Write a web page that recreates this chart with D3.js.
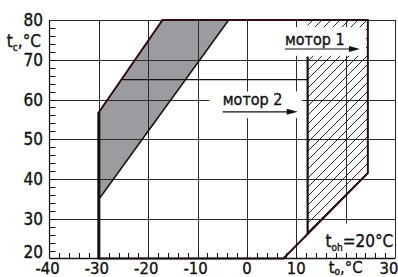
<!DOCTYPE html>
<html>
<head>
<meta charset="utf-8">
<script src="https://cdn.jsdelivr.net/npm/d3@7"></script>
<style>
  body { margin: 0; background: #fff; }
  #chart { width: 398px; height: 277px; }
  text { font-family: "Liberation Sans Narrow", "DejaVu Sans Condensed", "Roboto", sans-serif; fill: #111; stroke: #111; stroke-width: 0.35px; }
</style>
</head>
<body>
<div id="chart"></div>
<script>
// ticks
const xTicks = [-40, -30, -20, -10, 0, 10, 20, 30];
const xTickLabels = ["-40", "-30", "-20", "-10", "0", "10", "", "30"];
const yTicks = [20, 30, 40, 50, 60, 70, 80];
const yTickLabels = ["20", "30", "40", "50", "60", "70", "80"];

// working areas, [t_o, t_c]
const outerRegion = [[-30, 20], [-30, 56.8], [-17.1, 80], [24.5, 80], [24.5, 41.5], [7.4, 20]];
const grayBand = [[-30, 34.9], [-30, 56.8], [-17.1, 80], [-3.7, 80]];
const motor1Zone = [[12.3, 26.2], [12.3, 80], [24.5, 80], [24.5, 41.5]];
const motor1Edge = [[12.3, 26.2], [12.3, 70.8]];
const motor2Limit = [[-25.2, 65], [12.3, 65]];

let width = 398, height = 277;

let x = d3.scaleLinear().domain([-40, 30]).range([49.5, 395]);
let y = d3.scaleLinear().domain([20, 80]).range([258.5, 20]);

let svg = d3.select("#chart").append("svg")
    .attr("width", width)
    .attr("height", height);

// hatch pattern
let defs = svg.append("defs");
defs.append("pattern")
    .attr("id", "hatch")
    .attr("patternUnits", "userSpaceOnUse")
    .attr("width", 9)
    .attr("height", 9)
    .append("path")
    .attr("d", "M-1,10 L10,-1 M-5.5,5.5 L5.5,-5.5 M3.5,14.5 L14.5,3.5")
    .attr("stroke", "#111")
    .attr("stroke-width", 0.9);

let line = d3.line().x(d => x(d[0])).y(d => y(d[1]));

// gray band
svg.append("path")
    .datum(grayBand)
    .attr("d", line.curve(d3.curveLinearClosed))
    .attr("fill", "#9c9ca0");

// hatched motor 1 zone
svg.append("path")
    .datum(motor1Zone)
    .attr("d", line.curve(d3.curveLinearClosed))
    .attr("fill", "url(#hatch)");

line.curve(d3.curveLinear);

// grid
svg.append("g").selectAll("line.v")
    .data(xTicks.slice(1))
    .enter().append("line")
    .attr("x1", d => Math.round(x(d)) + 0.5)
    .attr("x2", d => Math.round(x(d)) + 0.5)
    .attr("y1", y(80))
    .attr("y2", y(20))
    .attr("stroke", "#2a2a2a")
    .attr("stroke-width", 1);

svg.append("g").selectAll("line.h")
    .data(yTicks.slice(1))
    .enter().append("line")
    .attr("y1", d => Math.round(y(d)) + 0.5)
    .attr("y2", d => Math.round(y(d)) + 0.5)
    .attr("x1", x(-40))
    .attr("x2", x(30))
    .attr("stroke", "#2a2a2a")
    .attr("stroke-width", 1);

// motor 2 upper limit
svg.append("path")
    .datum(motor2Limit)
    .attr("d", line)
    .attr("stroke", "#111")
    .attr("stroke-width", 1.2)
    .attr("fill", "none");

// white boxes behind labels
let boxes = [
    {x0: 7.2, x1: 24.1, y0: 78.2, y1: 71.0},
    {x0: -7.6, x1: 11.1, y0: 62.0, y1: 55.3},
    {x0: 15.2, x1: 29.3, y0: 28.8, y1: 21.4}
];
svg.append("g").selectAll("rect")
    .data(boxes)
    .enter().append("rect")
    .attr("x", d => x(d.x0))
    .attr("y", d => y(d.y0))
    .attr("width", d => x(d.x1) - x(d.x0))
    .attr("height", d => y(d.y1) - y(d.y0))
    .attr("fill", "#fff");

// gray band lower edge
svg.append("path")
    .datum([grayBand[0], grayBand[3]])
    .attr("d", line)
    .attr("stroke", "#111")
    .attr("stroke-width", 1.5)
    .attr("fill", "none");

// outer region outline
svg.append("path")
    .datum(outerRegion)
    .attr("d", line.curve(d3.curveLinearClosed))
    .attr("stroke", "#2c0d0d")
    .attr("stroke-width", 2)
    .attr("stroke-linejoin", "miter")
    .attr("fill", "none");
line.curve(d3.curveLinear);

// thick left edge at x=-30
svg.append("path")
    .datum([[-30, 20], [-30, 56.8]])
    .attr("d", line)
    .attr("stroke", "#111")
    .attr("stroke-width", 3)
    .attr("fill", "none");

// motor 1 left edge
svg.append("path")
    .datum(motor1Edge)
    .attr("d", line)
    .attr("stroke", "#111")
    .attr("stroke-width", 2.2)
    .attr("fill", "none");

// axes
svg.append("line")
    .attr("x1", x(-40)).attr("x2", x(-40))
    .attr("y1", y(80)).attr("y2", y(20))
    .attr("stroke", "#111").attr("stroke-width", 1.2);
svg.append("line")
    .attr("x1", x(-40)).attr("x2", x(30))
    .attr("y1", y(20)).attr("y2", y(20))
    .attr("stroke", "#111").attr("stroke-width", 1.5);

// minor ticks
svg.append("g").selectAll("line")
    .data(d3.range(22, 80, 2))
    .enter().append("line")
    .attr("x1", x(-40))
    .attr("x2", x(-40) + 6)
    .attr("y1", d => Math.round(y(d)) + 0.5)
    .attr("y2", d => Math.round(y(d)) + 0.5)
    .attr("stroke", "#111");

svg.append("g").selectAll("line")
    .data(d3.range(-38, 30, 2))
    .enter().append("line")
    .attr("x1", d => Math.round(x(d)) + 0.5)
    .attr("x2", d => Math.round(x(d)) + 0.5)
    .attr("y1", y(20))
    .attr("y2", y(20) - 5.5)
    .attr("stroke", "#111");

// tick labels
svg.append("g").selectAll("text")
    .data(yTicks)
    .enter().append("text")
    .attr("x", 43)
    .attr("y", d => d === 20 ? 258 : y(d) + 6)
    .attr("text-anchor", "end")
    .style("font-size", "17px")
    .text((d, i) => yTickLabels[i]);

svg.append("g").selectAll("text")
    .data(xTicks)
    .enter().append("text")
    .attr("x", d => x(d) - (d < 0 ? 2 : 0) - (d === 30 ? 6 : 0))
    .attr("y", 273.5)
    .attr("text-anchor", "middle")
    .style("font-size", "16.5px")
    .text((d, i) => xTickLabels[i]);

// axis titles
let yTitle = svg.append("text")
    .attr("x", 41)
    .attr("y", y(73.3))
    .attr("text-anchor", "end")
    .style("font-size", "17px");
yTitle.append("tspan").text("t");
yTitle.append("tspan").attr("dy", 4).style("font-size", "10px").text("c");
yTitle.append("tspan").attr("dy", -4).text(",°C");

let xTitle = svg.append("text")
    .attr("x", x(20))
    .attr("y", 273)
    .attr("text-anchor", "middle")
    .style("font-size", "16.5px");
xTitle.append("tspan").text("t");
xTitle.append("tspan").attr("dy", 2).style("font-size", "10px").text("o");
xTitle.append("tspan").attr("dy", -2).text(",°C");

let tLabel = svg.append("text")
    .attr("x", x(15.9))
    .attr("y", y(23.0))
    .style("font-size", "17px");
tLabel.append("tspan").text("t");
tLabel.append("tspan").attr("dy", 4).style("font-size", "10px").text("oh");
tLabel.append("tspan").attr("dy", -4).text("=20°C");

// motor labels with arrows
let labels = [
    {text: "мотор 1", tx: 7.7, ty: 73.7, ax0: 7.7, ax1: 22.9, ay: 72.7},
    {text: "мотор 2", tx: -4.9, ty: 58.6, ax0: -4.9, ax1: 10.3, ay: 56.9}
];

labels.forEach(d => {
    svg.append("text")
        .attr("x", x(d.tx))
        .attr("y", y(d.ty))
        .style("font-size", "16px")
        .text(d.text);

    svg.append("line")
        .attr("x1", x(d.ax0))
        .attr("x2", x(d.ax1) - 8)
        .attr("y1", y(d.ay))
        .attr("y2", y(d.ay))
        .attr("stroke", "#111")
        .attr("stroke-width", 1.2);

    let ex = x(d.ax1), ey = y(d.ay);
    svg.append("path")
        .attr("d", `M${ex},${ey} L${ex - 11},${ey - 3} L${ex - 11},${ey + 3} Z`)
        .attr("fill", "#111");
});
</script>
</body>
</html>
